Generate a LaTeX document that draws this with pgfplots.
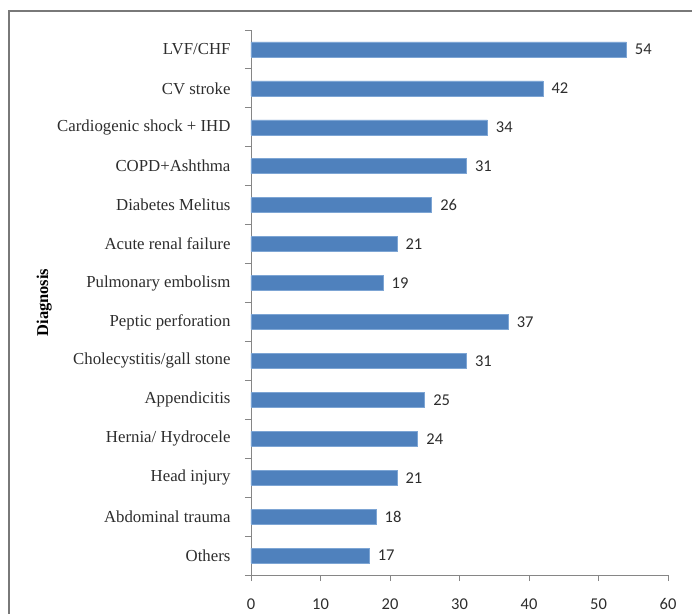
\documentclass[border=0pt]{standalone}
\usepackage{pgfplots}
\pgfplotsset{compat=1.18}
\usepackage{fontspec}
\setmainfont{Liberation Serif}
\newfontfamily\calib{Carlito}
\definecolor{barblue}{RGB}{79,129,189}
\definecolor{baredge}{RGB}{125,165,212}
\definecolor{axgray}{RGB}{134,134,134}
\definecolor{txt}{RGB}{45,45,45}
\begin{document}
\begin{tikzpicture}[x=1pt,y=1pt]
\useasboundingbox (-251,-38) rectangle (441,575);
\draw[line width=2pt, color=axgray!90!black] (-242,-40) -- (-242,564) -- (445,564);
\begin{axis}[
  at={(0,0)}, anchor=south west,
  scale only axis, width=417pt, height=545pt,
  xbar, bar width=15pt,
  xmin=0, xmax=60, xtick={0,10,...,60},
  ymin=-0.5, ymax=13.5, y dir=reverse,
  ytick={0,...,13},
  yticklabels={LVF/CHF, CV stroke, Cardiogenic shock + IHD, COPD+Ashthma, Diabetes Melitus, Acute renal failure, Pulmonary embolism, Peptic perforation, Cholecystitis/gall stone, Appendicitis, Hernia/ Hydrocele, Head injury, Abdominal trauma, Others},
  minor ytick={-0.5,0.5,...,13.5},
  major y tick style={draw=none},
  minor tick length=6pt,
  major tick length=6pt,
  tick align=outside,
  axis x line*=bottom, axis y line*=left,
  axis line style={axgray, line width=0.9pt},
  every tick/.style={axgray, line width=0.9pt},
  x axis line style={-}, y axis line style={-},
  /pgf/number format/assume math mode=true,
  xticklabel style={font=\calib\fontsize{16.5}{16}\selectfont, text=txt, yshift=-14pt},
  yticklabel style={font=\fontsize{16.8}{18}\selectfont, text=txt, xshift=-11pt},
  ylabel={\textbf{Diagnosis}},
  ylabel style={at={(axis description cs:-0.496,0.5)}, anchor=center, font=\fontsize{16.5}{18}\selectfont, text=black},
  nodes near coords,
  every node near coord/.append style={font=\calib\fontsize{16.5}{16}\selectfont, text=txt, xshift=5pt},
  clip=false,
]
\addplot[fill=barblue, draw=baredge, line width=0.6pt] coordinates {
(54,0) (42,1) (34,2) (31,3) (26,4) (21,5) (19,6) (37,7) (31,8) (25,9) (24,10) (21,11) (18,12) (17,13)};
\end{axis}
\end{tikzpicture}
\end{document}
